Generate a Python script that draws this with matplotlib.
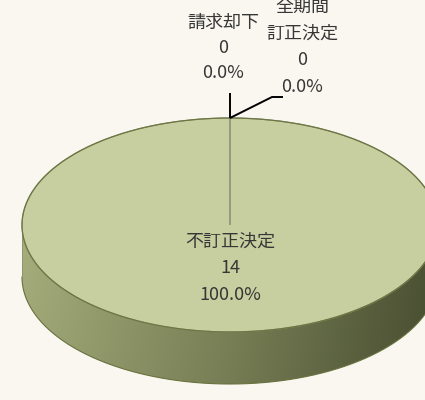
import numpy as np
import matplotlib
matplotlib.use("Agg")
import matplotlib.pyplot as plt
from matplotlib.patches import Polygon

plt.rcParams['font.family'] = ['Noto Sans CJK JP', 'DejaVu Sans']

# data
categories = ['不訂正決定', '請求却下', '全期間\n訂正決定']
counts = [14, 0, 0]

total = sum(counts)
percents = [c / total * 100 for c in counts]

# layout of the tilted pie (pixels)
W, H = 425, 400
CX, CY, RX, RY, DEPTH = 230, 225, 208, 107, 52
BG = '#f9f7ef'
TOP = '#c7ce9f'
RIM = '#6d7640'
TXT = '#363636'


def px(x, y):
    """pixel position -> unit-ellipse data coords"""
    return (x - CX) / RX, (CY - y) / RY


fig = plt.figure(figsize=(W / 100, H / 100), dpi=100)
fig.patch.set_facecolor(BG)
ax = fig.add_axes([0, 0, 1, 1])
ax.set_facecolor(BG)

d = DEPTH / RY

# cylinder side with a left-to-right shading
t = np.linspace(np.pi, 2 * np.pi, 300)
xs = np.cos(t)
ys = np.sin(t)
side_xy = np.concatenate([np.column_stack([xs, ys]),
                          np.column_stack([xs[::-1], ys[::-1] - d])])
side = Polygon(side_xy, closed=True, facecolor='none', edgecolor='none')
ax.add_patch(side)

light = np.array([166, 174, 124]) / 255
mid = np.array([124, 131, 88]) / 255
dark = np.array([74, 80, 50]) / 255
u = np.linspace(0, 1, 400)
cols = np.where(u[:, None] < 0.5,
                light + (mid - light) * (u[:, None] / 0.5),
                mid + (dark - mid) * ((u[:, None] - 0.5) / 0.5))
grad = np.tile(cols[None, :, :], (60, 1, 1))
vshade = np.linspace(1.0, 0.95, 60)[:, None, None]
grad = np.clip(grad * vshade, 0, 1)
im = ax.imshow(grad, extent=(-1, 1, -1 - d, 0), origin='upper',
               aspect='auto', zorder=1, interpolation='bilinear')
im.set_clip_path(side)
ax.plot(xs, ys - d, color='#6a7240', lw=0.8, zorder=2)
ax.plot([-1, -1], [0, -d], color='#8c936a', lw=0.6, zorder=2)

# top face
wedges, _ = ax.pie(counts, startangle=90, counterclock=False,
                   colors=[TOP] * len(counts),
                   wedgeprops=dict(edgecolor='#8b9078', linewidth=0.8))
for w in wedges:
    w.set_zorder(3)
ring = np.linspace(0, 2 * np.pi, 400)
ax.plot(np.cos(ring), np.sin(ring), color=RIM, lw=0.9, zorder=4)

ax.set_xlim(px(0, 0)[0], px(W, 0)[0])
ax.set_ylim(px(0, H)[1], px(0, 0)[1])
ax.set_aspect('auto')
ax.axis('off')

# labels
def label_text(i):
    return f"{categories[i]}\n{counts[i]}\n{percents[i]:.1f}%"

fs = 13
ax.text(*px(230, 268), label_text(0), ha='center', va='center',
        fontsize=fs, color=TXT, linespacing=1.62, zorder=5)
ax.text(*px(223, 48), label_text(1), ha='center', va='center',
        fontsize=fs, color=TXT, linespacing=1.52, zorder=5)
ax.text(*px(302, 47), label_text(2), ha='center', va='center',
        fontsize=fs, color=TXT, linespacing=1.62, zorder=5)

# leader lines from the rim point at twelve o'clock
rim_top = (0.0, 1.0)
lx, ly = zip(rim_top, px(230, 93))
ax.plot(lx, ly, color='black', lw=1.4, zorder=5, solid_capstyle='butt')
rx, ry = zip(rim_top, px(272, 97), px(283, 97))
ax.plot(rx, ry, color='black', lw=1.4, zorder=5, solid_capstyle='butt')

fig.savefig('out.png', dpi=100, facecolor=BG)
